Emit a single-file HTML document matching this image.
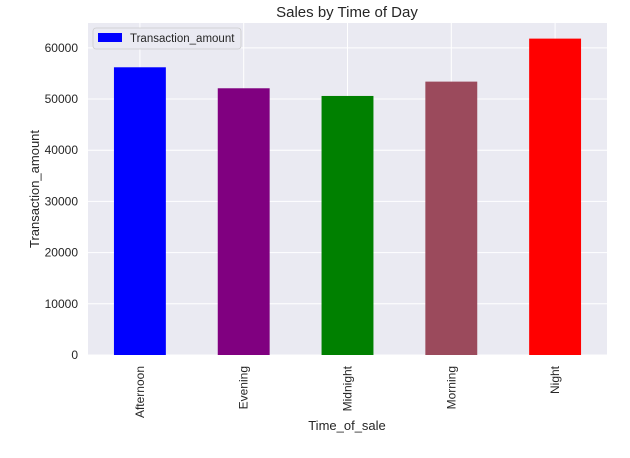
<!DOCTYPE html>
<html><head><meta charset="utf-8"><style>
body{margin:0;background:#fff;}
svg{display:block;font-family:"Liberation Sans",sans-serif;}
</style></head><body>
<svg id="chart" width="630" height="458">
<rect x="88" y="23" width="519" height="332" fill="#eaeaf2"/>
<g id="grid"></g><g id="bars"></g><g id="ticks"></g>
<text x="347" y="17" text-anchor="middle" font-size="15" fill="#262626">Sales by Time of Day</text>
<text x="347" y="430" text-anchor="middle" font-size="13" fill="#262626">Time_of_sale</text>
<text transform="translate(39,189) rotate(-90)" text-anchor="middle" font-size="13" fill="#262626">Transaction_amount</text>
<g>
<rect x="93" y="28" width="148" height="21" rx="3" fill="#eaeaf2" stroke="#ccc" stroke-width="0.8"/>
<rect x="98" y="33" width="24" height="9" fill="#0000ff"/>
<text x="130" y="42" font-size="11.5" fill="#262626">Transaction_amount</text>
</g>
</svg>
<script>
const categories=["Afternoon","Evening","Midnight","Morning","Night"];
const values=[56200,52100,50600,53400,61800];
const colors=["#0000ff","#800080","#008000","#9b4a5c","#ff0000"];
const yTicks=[0,10000,20000,30000,40000,50000,60000];
const NS="http://www.w3.org/2000/svg";
const x0=88,x1=607,y0=355,yMax=64850,yTop=23;
const band=(x1-x0)/categories.length;
const xs=i=>x0+band*(i+0.5);
const ys=v=>y0-(v/yMax)*(y0-yTop);
function mk(t,a,p){const e=document.createElementNS(NS,t);for(const k in a)e.setAttribute(k,a[k]);p.appendChild(e);return e;}
const grid=document.getElementById('grid'),bars=document.getElementById('bars'),ticks=document.getElementById('ticks');
yTicks.forEach(v=>{
 const l=mk('line',{x1:x0,x2:x1,y1:ys(v),y2:ys(v),stroke:'#fff','stroke-width':1},grid);
 
 
 const t=mk('text',{x:78,y:ys(v)+4,'text-anchor':'end','font-size':12,fill:'#262626'},ticks);
 t.textContent=v;
 
 
});
categories.forEach((c,i)=>{
 const l=mk('line',{x1:xs(i),x2:xs(i),y1:yTop,y2:y0,stroke:'#fff','stroke-width':1},grid);
 
 
 const w=band*0.5;
 const b=mk('rect',{x:xs(i)-w/2,y:ys(values[i]),width:w,height:y0-ys(values[i]),fill:colors[i]},bars);
 
 
 const t=mk('text',{transform:`translate(${xs(i)+4},366) rotate(-90)`,'text-anchor':'end','font-size':12,fill:'#262626'},ticks);
 t.textContent=c;
 
 
});
</script>
</body></html>
